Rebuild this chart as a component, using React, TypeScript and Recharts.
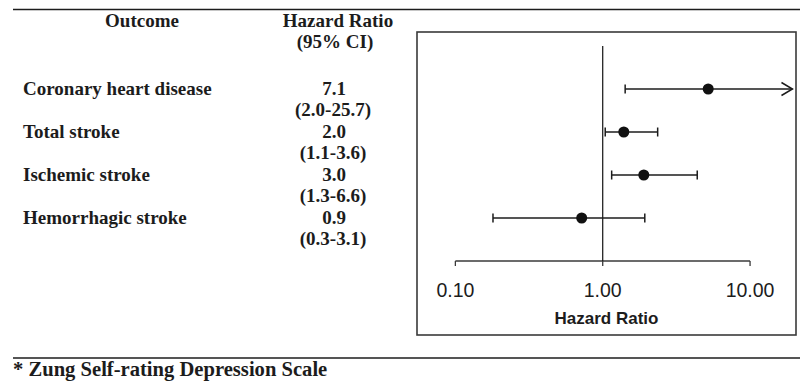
import React from 'react';
import { ComposedChart, Scatter, XAxis, YAxis, ReferenceLine } from 'recharts';

const outcomes = ['Coronary heart disease', 'Total stroke', 'Ischemic stroke', 'Hemorrhagic stroke'];
const hrLabels = ['7.1', '2.0', '3.0', '0.9'];
const ciLabels = ['(2.0-25.7)', '(1.1-3.6)', '(1.3-6.6)', '(0.3-3.1)'];
// where the marks sit on the log axis in the figure
const pointHr = [5.2, 1.39, 1.9, 0.72];
const lowerCi = [1.42, 1.04, 1.15, 0.18];
const upperCi = [19.4, 2.36, 4.38, 1.93];
const runsOff = [true, false, false, false];
const xTicks = [0.1, 1, 10];

const rows = outcomes.map((name, i) => ({
  row: i + 1,
  name,
  hr: pointHr[i],
  lo: lowerCi[i],
  hi: upperCi[i],
  arrow: runsOff[i],
}));

const serif = 'Liberation Serif, Times New Roman, serif';
const sans = 'Liberation Sans, Arial, sans-serif';
const ink = '#1c1c1c';

const CiShape = (props: any) => {
  const { x1, y1, x2, arrow } = props;
  return (
    <g stroke={ink} strokeWidth={1.5} fill="none">
      <line x1={x1} y1={y1} x2={x2} y2={y1} />
      <line x1={x1} y1={y1 - 4.5} x2={x1} y2={y1 + 4.5} />
      {arrow ? (
        <polyline points={`${x2 - 11},${y1 - 6.5} ${x2},${y1} ${x2 - 11},${y1 + 6.5}`} />
      ) : (
        <line x1={x2} y1={y1 - 4.5} x2={x2} y2={y1 + 4.5} />
      )}
    </g>
  );
};

const RowTick = (props: any) => {
  const { y, payload } = props;
  const i = payload.value - 1;
  if (i < 0 || i >= outcomes.length) return null;
  return (
    <g fontFamily={serif} fontWeight="bold" fontSize={19} fill={ink}>
      <text x={23} y={y + 6}>{outcomes[i]}</text>
      <text x={334} y={y + 6} textAnchor="middle">{hrLabels[i]}</text>
      <text x={333} y={y + 27} textAnchor="middle">{ciLabels[i]}</text>
    </g>
  );
};

const Dot = (props: any) => <circle cx={props.cx} cy={props.cy} r={5.5} fill="#111" />;

export default function App() {
  return (
    <div style={{ position: 'absolute', left: 0, top: 0, width: 800, height: 383, background: '#fff' }}>
      <svg width={800} height={383} style={{ position: 'absolute', left: 0, top: 0 }}>
        <line x1={13} y1={9.5} x2={800} y2={9.5} stroke={ink} strokeWidth={1.4} />
        <line x1={13} y1={358} x2={800} y2={358} stroke={ink} strokeWidth={1.4} />
        <rect x={417} y={32} width={379} height={303} fill="none" stroke="#3a3a3a" strokeWidth={1.6} />
        <g fontFamily={serif} fontWeight="bold" fontSize={19} fill={ink}>
          <text x={142} y={27} textAnchor="middle">Outcome</text>
          <text x={338} y={27} textAnchor="middle">Hazard Ratio</text>
          <text x={335} y={48} textAnchor="middle">(95% CI)</text>
          <text x={13} y={376} fontSize={20.6}>* Zung Self-rating Depression Scale</text>
        </g>
      </svg>
      <div style={{ position: 'absolute', left: 0, top: 0 }}>
        <ComposedChart width={800} height={383} margin={{ top: 32, right: 4, bottom: 52, left: 7 }}>
          <XAxis
            type="number"
            dataKey="hr"
            scale="log"
            domain={[0.0549, 20.5]}
            ticks={xTicks}
            interval={0}
            tickFormatter={(v: number) => v.toFixed(2)}
            axisLine={false}
            tickLine={{ stroke: '#3a3a3a', strokeWidth: 1.3 }}
            tickSize={5}
            tickMargin={17}
            height={70}
            tick={{ fontSize: 19.5, fill: ink, fontFamily: sans }}
            label={{
              value: 'Hazard Ratio',
              position: 'insideBottom',
              offset: 7,
              style: { fontSize: 17, fontWeight: 'bold', fill: ink, fontFamily: sans },
            }}
          />
          <YAxis
            type="number"
            dataKey="row"
            reversed
            domain={[-0.326, 5]}
            ticks={[1, 2, 3, 4]}
            interval={0}
            width={410}
            axisLine={false}
            tickLine={false}
            tick={<RowTick />}
          />
          <ReferenceLine
            segment={[{ x: 0.1, y: 5 }, { x: 10, y: 5 }]}
            stroke="#3a3a3a"
            strokeWidth={1.3}
          />
          <ReferenceLine
            segment={[{ x: 1, y: 0 }, { x: 1, y: 5 }]}
            stroke="#111"
            strokeWidth={1.2}
          />
          {rows.map((r) => (
            <ReferenceLine
              key={r.row}
              segment={[{ x: r.lo, y: r.row }, { x: r.hi, y: r.row }]}
              stroke={ink}
              shape={(p: any) => <CiShape {...p} arrow={r.arrow} />}
            />
          ))}
          <Scatter data={rows} dataKey="hr" shape={<Dot />} isAnimationActive={false} />
        </ComposedChart>
      </div>
    </div>
  );
}
